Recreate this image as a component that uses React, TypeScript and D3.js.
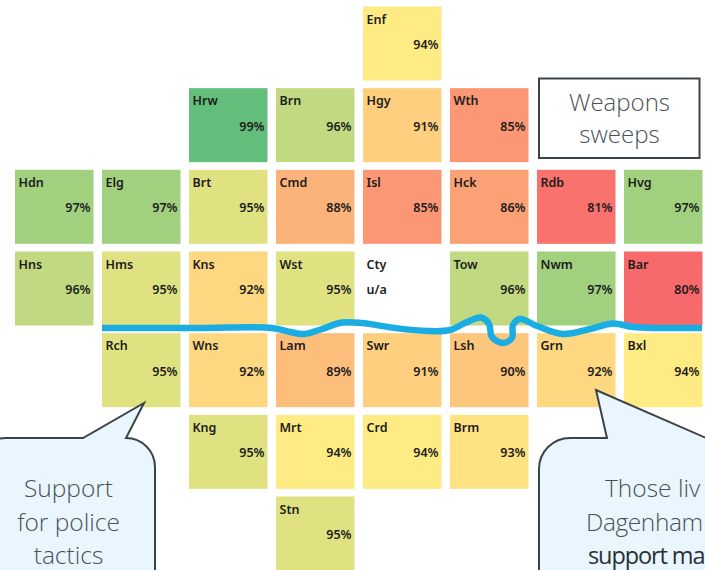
import React from "react";
import * as d3 from "d3";

const tileRows: (string | null)[][] = [
  [null, null, null, null, "Enf"],
  [null, null, "Hrw", "Brn", "Hgy", "Wth"],
  ["Hdn", "Elg", "Brt", "Cmd", "Isl", "Hck", "Rdb", "Hvg"],
  ["Hns", "Hms", "Kns", "Wst", "Cty", "Tow", "Nwm", "Bar"],
  [null, "Rch", "Wns", "Lam", "Swr", "Lsh", "Grn", "Bxl"],
  [null, null, "Kng", "Mrt", "Crd", "Brm"],
  [null, null, null, "Stn"],
];

const supportCodes = ["Enf","Hrw","Brn","Hgy","Wth","Hdn","Elg","Brt","Cmd","Isl","Hck","Rdb","Hvg","Hns","Hms","Kns","Wst","Tow","Nwm","Bar","Rch","Wns","Lam","Swr","Lsh","Grn","Bxl","Kng","Mrt","Crd","Brm","Stn"];
const supportValues = [94,99,96,91,85,97,97,95,88,85,86,81,97,96,95,92,95,96,97,80,95,92,89,91,90,92,94,95,94,94,93,95];

const riverCourse: [number, number][] = [
  [102,328],[200,328],[272,328],[290,332],[304,334],[322,329],[342,322.5],[362,323],[395,328],[427,331],[450,330],[465,323],[481,317.5],[489,324],[492,337],[503,343],[512,338],[513,325],[520,319],[537,326],[563,334],[590,329],[613,323.5],[633,327],[660,328],[702,328],
];

const leftCalloutLines = ["Support", "for police", "tactics"];
const rightCalloutLines = ["Those liv", "Dagenham", "support ma"];
const rightCalloutStarts = [605, 586, 588];
const rightCalloutSpacing = [0, -0.4, -1.1];
const boxLines = ["Weapons", "sweeps"];

const colScale = d3.scaleLinear().domain([0, 7]).range([15, 624]);
const rowScale = d3.scaleLinear().domain([0, 6]).range([6.5, 496.5]);
const colour = d3.scaleLinear<string>().domain([80, 94, 99]).range(["#F8696B", "#FFEB84", "#63BE7B"]);
const TILE_W = 78.5;
const TILE_H = 74;
const INK = "#4A5157";
const LINE = "#3B4248";
const BUBBLE = "#E9F6FE";
const TILE_FONT = "'Noto Sans', sans-serif";
const NOTE_FONT = "'Open Sans', sans-serif";

function leftBubble() {
  const p = d3.path();
  p.moveTo(-22, 600);
  p.lineTo(-22, 466);
  p.arcTo(-22, 438, 6, 438, 28);
  p.lineTo(83, 438);
  p.lineTo(144, 403);
  p.lineTo(126, 438);
  p.arcTo(155, 438, 155, 467, 29);
  p.lineTo(155, 600);
  p.closePath();
  return p.toString();
}

function rightBubble() {
  const p = d3.path();
  p.moveTo(539, 600);
  p.lineTo(539, 469);
  p.arcTo(539, 438, 570, 438, 31);
  p.lineTo(607, 438);
  p.lineTo(596, 390);
  p.lineTo(720, 444);
  p.lineTo(720, 600);
  p.closePath();
  return p.toString();
}

export default function App() {
  const river = d3.line().curve(d3.curveCatmullRom.alpha(0.5))(riverCourse) ?? "";
  const tiles = tileRows.flatMap((row, r) =>
    row.flatMap((code, c) => (code ? [{ code, r, c }] : []))
  );
  return (
    <svg width={705} height={570} viewBox="0 0 705 570" style={{ position: "absolute", left: 0, top: 0, display: "block" }}>
      <rect width={705} height={570} fill="#fff" />
      {tiles.map(({ code, r, c }) => {
        const i = supportCodes.indexOf(code);
        const v = i >= 0 ? supportValues[i] : null;
        const x = colScale(c);
        const y = rowScale(r);
        return (
          <g key={code} fontFamily={TILE_FONT} fontWeight={600} fontSize={12.5} fill="#1c1c1c">
            {v !== null && <rect x={x} y={y} width={TILE_W} height={TILE_H} fill={colour(v)} />}
            <text x={x + 3.5} y={y + 17}>{code}</text>
            {v !== null ? (
              <text x={x + 75.5} y={y + 42.5} textAnchor="end">{v}%</text>
            ) : (
              <text x={x + 3.5} y={y + 42.5}>u/a</text>
            )}
          </g>
        );
      })}
      <path d={river} fill="none" stroke="#19ADE4" strokeWidth={6.5} strokeLinecap="butt" strokeLinejoin="round" />
      <rect x={539} y={78.5} width={160.5} height={79.5} fill="#fff" stroke={LINE} strokeWidth={2} />
      {boxLines.map((t, i) => (
        <text key={t} x={619.5} y={111 + i * 32} textAnchor="middle" fontFamily={NOTE_FONT} fontWeight={300} fontSize={24} fill={INK}>{t}</text>
      ))}
      <path d={leftBubble()} fill={BUBBLE} stroke={LINE} strokeWidth={2} strokeLinejoin="miter" />
      {leftCalloutLines.map((t, i) => (
        <text key={t} x={68.5} y={497 + i * 33.5} textAnchor="middle" fontFamily={NOTE_FONT} fontWeight={300} fontSize={24.5} fill={INK}>{t}</text>
      ))}
      <path d={rightBubble()} fill={BUBBLE} stroke={LINE} strokeWidth={2} strokeLinejoin="miter" />
      {rightCalloutLines.map((t, i) => (
        <text key={t} x={rightCalloutStarts[i]} y={497 + i * 33.5} letterSpacing={rightCalloutSpacing[i]} fontFamily={NOTE_FONT} fontWeight={i === 2 ? 500 : 300} fontSize={i === 2 ? 23.5 : 24.5} fill={i === 2 ? "#2b3036" : INK}>{t}</text>
      ))}
    </svg>
  );
}
